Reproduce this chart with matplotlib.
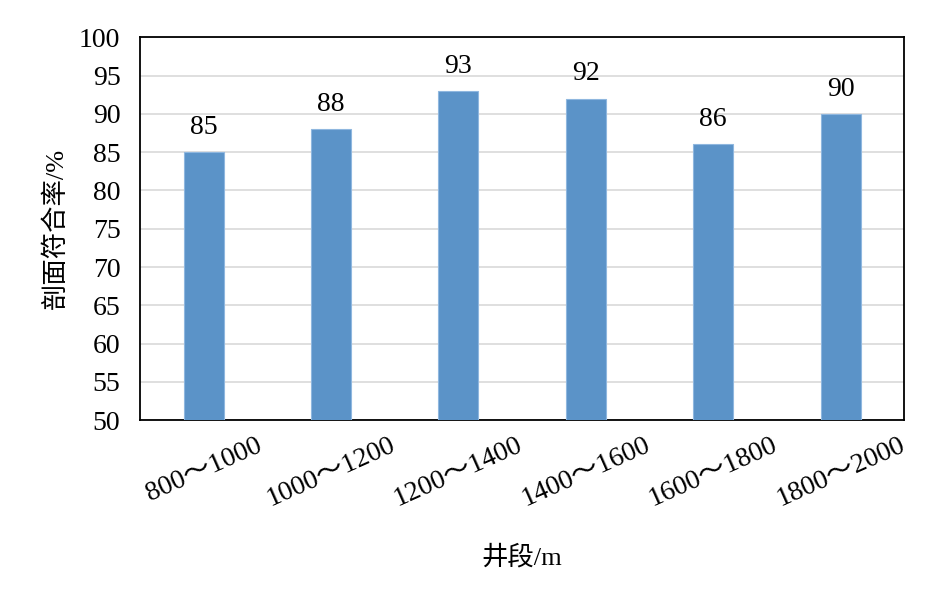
import matplotlib.pyplot as plt
import numpy as np

categories = ["800～1000", "1000～1200", "1200～1400", "1400～1600", "1600～1800", "1800～2000"]
rates = [85, 88, 93, 92, 86, 90]
yticks = list(range(50, 101, 5))

FONT = ["Liberation Serif", "Noto Sans CJK SC"]
plt.rcParams["font.family"] = FONT

fig = plt.figure(figsize=(9.45, 5.91), dpi=100)
ax = fig.add_axes([0.148, 0.289, 0.809, 0.648])

x = np.arange(len(categories))
ax.bar(x, rates, width=0.315, color="#5B93C8", edgecolor="#8fb7df", linewidth=0.8, zorder=3)
for xi, v in zip(x, rates):
    ax.text(xi, v + 1.6, str(v), ha="center", va="bottom", fontsize=20)

ax.set_xlim(-0.5, len(categories) - 0.5)
ax.set_ylim(50, 100)
ax.set_yticks(yticks)
ax.set_xticks(x)
ax.set_xticklabels(categories, rotation=24, ha="center", fontsize=20)
ax.tick_params(axis="y", labelsize=20, length=0, pad=14)
ax.tick_params(axis="x", length=0, pad=9)
ax.grid(axis="y", color="#d9d9d9", linewidth=1.2, zorder=0)
for s in ax.spines.values():
    s.set_linewidth(1.3)
    s.set_color("black")

ax.set_ylabel("剖面符合率/%", fontsize=19, labelpad=8)
ax.set_xlabel("井段/m", fontsize=19, labelpad=24)

fig.savefig("out.png", dpi=100)
